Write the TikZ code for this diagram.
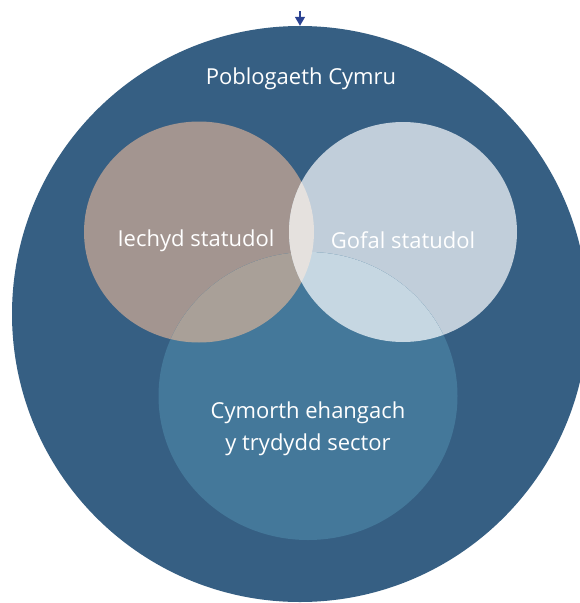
\documentclass[tikz,border=0pt]{standalone}
\usepackage{fontspec}
\setmainfont{Open Sans}
\usetikzlibrary{shapes.geometric,arrows.meta}
\definecolor{outerblue}{HTML}{365F83}
\definecolor{leftc}{HTML}{A39590}
\definecolor{rightc}{HTML}{C1CEDA}
\definecolor{bottomc}{HTML}{44789A}
\definecolor{lrc}{HTML}{E5E1DE}
\definecolor{lbc}{HTML}{A9A098}
\definecolor{rbc}{HTML}{C6D7E2}
\definecolor{arrowc}{HTML}{2B4392}
\tikzset{
  lbl/.style={text=white, font=\fontsize{22}{32}\selectfont, align=center},
  blob/.style={ellipse, inner sep=0pt, draw=none}
}
\begin{document}
\begin{tikzpicture}[x=1pt,y=-1pt]
\useasboundingbox (0,0) rectangle (580,603);
\begin{scope}
\clip (0,0) rectangle (580,603);
\node[circle, fill=outerblue, minimum size=576pt, inner sep=0pt] (outer) at (300,314) {};
\node[blob, fill=leftc, minimum width=230pt, minimum height=221pt] (iechyd) at (199,232) {};
\node[blob, fill=rightc, minimum width=228pt, minimum height=220pt] (gofal) at (403,232) {};
\node[blob, fill=bottomc, minimum width=299pt, minimum height=288pt] (cymorth) at (308,396) {};
% left-bottom overlap
\begin{scope}
\clip (199,232) ellipse [x radius=115, y radius=110.5];
\fill[lbc] (308,396) ellipse [x radius=149.5, y radius=144];
\end{scope}
% right-bottom overlap
\begin{scope}
\clip (403,232) ellipse [x radius=114, y radius=110];
\fill[rbc] (308,396) ellipse [x radius=149.5, y radius=144];
\end{scope}
% left-right overlap
\begin{scope}
\clip (199,232) ellipse [x radius=115, y radius=110.5];
\fill[lrc] (403,232) ellipse [x radius=114, y radius=110];
\end{scope}
\end{scope}
\node[lbl] (pob) at (301,79) {Poblogaeth Cymru};
\node[lbl] (tiechyd) at (196,241) {Iechyd statudol};
\node[lbl] (tgofal) at (403,240) {Gofal statudol};
\node[lbl] (tcym) at (308,429) {Cymorth ehangach\\y trydydd sector};
\coordinate (arrowstart) at (300,11);
\draw[arrowc, line width=1.3pt, -{Triangle[length=9pt,width=10pt]}] (arrowstart) -- (outer.north);
\end{tikzpicture}
\end{document}
